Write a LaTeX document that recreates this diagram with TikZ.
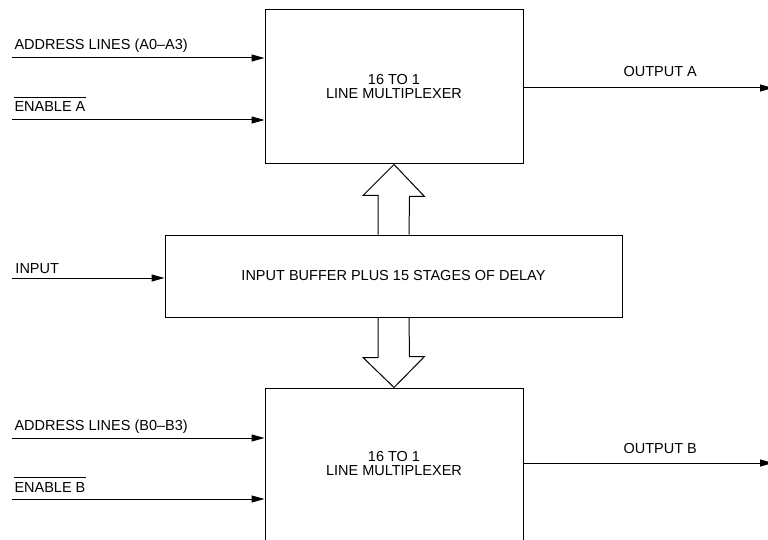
\documentclass[tikz,border=0pt]{standalone}
\usepackage{fontspec}
\setmainfont{Liberation Sans}
\usetikzlibrary{arrows.meta}
\begin{document}
\begin{tikzpicture}[x=1pt, y=-1pt, line width=1pt,
    font=\fontsize{14.5}{14}\selectfont,
    box/.style={draw, rectangle, inner sep=0pt, align=center},
    lbl/.style={anchor=base west, inner sep=0pt},
    sig/.style={-{Triangle[length=13pt, width=7pt]}},
    bar/.style={line width=0.8pt},
    hollow/.style={draw, line join=miter}]
    \useasboundingbox (0,0) rectangle (768,540);

    \node[box, minimum width=258pt, minimum height=154pt] (muxA) at (394,87) {16 TO 1\\LINE MULTIPLEXER};
    \node[box, minimum width=457pt, minimum height=82pt] (buf) at (393.5,276) {INPUT BUFFER PLUS 15 STAGES OF DELAY};
    \node[box, minimum width=258pt, minimum height=152pt] (muxB) at (394,464) {16 TO 1\\LINE MULTIPLEXER};

    \node[lbl] (addrA) at (14,50) {ADDRESS LINES (A0--A3)};
    \node[lbl] (enA) at (14,112) {ENABLE A};
    \node[lbl] (input) at (15,273) {INPUT};
    \node[lbl] (addrB) at (14,430) {ADDRESS LINES (B0--B3)};
    \node[lbl] (enB) at (14,492) {ENABLE B};
    \node[lbl] (outlblA) at (623,77) {OUTPUT A};
    \node[lbl] (outlblB) at (623,453) {OUTPUT B};

    \draw[bar] ([yshift=4pt]enA.north west) -- ([yshift=4pt]enA.north east);
    \draw[bar] ([yshift=4pt]enB.north west) -- ([yshift=4pt]enB.north east);

    \coordinate (inA) at (12,58);
    \coordinate (inEA) at (12,120);
    \coordinate (inBuf) at (12,278);
    \coordinate (inB) at (12,438);
    \coordinate (inEB) at (12,499);
    \coordinate (outA) at (773,88);
    \coordinate (outB) at (773,463);

    \draw[sig] (inA) -- (inA -| muxA.west);
    \draw[sig] (inEA) -- (inEA -| muxA.west);
    \draw[sig] (inBuf) -- (inBuf -| buf.west);
    \draw[sig] (inB) -- (inB -| muxB.west);
    \draw[sig] (inEB) -- (inEB -| muxB.west);
    \draw[sig] (outA -| muxA.east) -- (outA);
    \draw[sig] (outB -| muxB.east) -- (outB);

    \draw[hollow] ([xshift=-15.5pt]buf.north) -- ++(0,-39) -- ++(-15,0) -- (muxA.south)
        -- ++(30.5,32) -- ++(-15,0) -- ([xshift=15.5pt]buf.north);
    \draw[hollow] ([xshift=-15.5pt]buf.south) -- ++(0,40) -- ++(-15,0) -- (muxB.north)
        -- ++(30.5,-31) -- ++(-15,0) -- ([xshift=15.5pt]buf.south);
\end{tikzpicture}
\end{document}
